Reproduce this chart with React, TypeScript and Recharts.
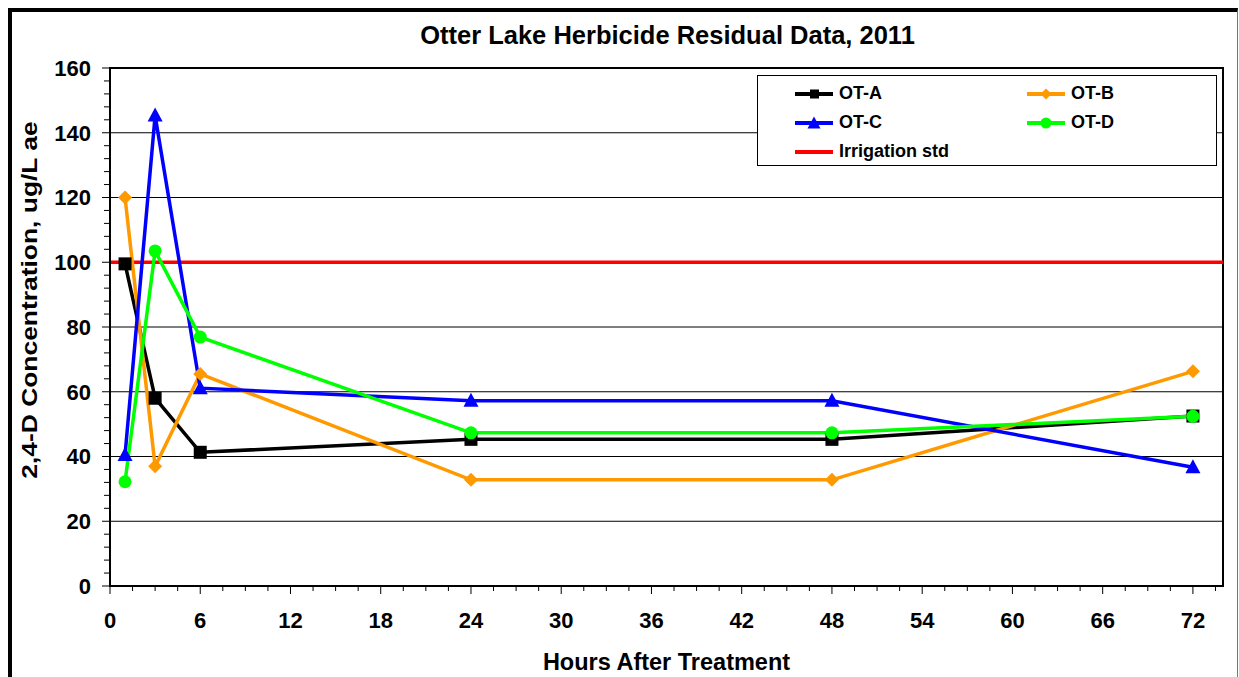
import React from 'react';
import {
  LineChart,
  Line,
  XAxis,
  YAxis,
  Legend,
  ReferenceLine,
  ReferenceArea,
} from 'recharts';

const hours = [1, 3, 6, 24, 48, 72];
const otA = [99.5, 58, 41.3, 45.3, 45.3, 52.5];
const otB = [120, 37, 65.5, 32.8, 32.8, 66.3];
const otC = [40.5, 145.3, 61.1, 57.2, 57.2, 36.7];
const otD = [32.2, 103.5, 76.9, 47.3, 47.3, 52.4];
const irrigationStd = 100;

// minor ticks every 1.5 h / 4 units, labels only on the majors
const xTicks = [
  0, 1.5, 3, 4.5, 6, 7.5, 9, 10.5, 12, 13.5, 15, 16.5, 18, 19.5, 21, 22.5, 24, 25.5, 27, 28.5,
  30, 31.5, 33, 34.5, 36, 37.5, 39, 40.5, 42, 43.5, 45, 46.5, 48, 49.5, 51, 52.5, 54, 55.5, 57,
  58.5, 60, 61.5, 63, 64.5, 66, 67.5, 69, 70.5, 72, 73.5,
];
const yTicks = [
  0, 4, 8, 12, 16, 20, 24, 28, 32, 36, 40, 44, 48, 52, 56, 60, 64, 68, 72, 76, 80, 84, 88, 92,
  96, 100, 104, 108, 112, 116, 120, 124, 128, 132, 136, 140, 144, 148, 152, 156, 160,
];
const yGridLines = [20, 40, 60, 80, 100, 120, 140];

const rows = hours.map((h, i) => ({ h, a: otA[i], b: otB[i], c: otC[i], d: otD[i] }));

const FONT = '"Liberation Sans", Arial, sans-serif';

const SquareDot = (props: any) => {
  const { cx, cy } = props;
  return <rect x={cx - 6.5} y={cy - 6.5} width={13} height={13} fill="#000" />;
};
const DiamondDot = (props: any) => {
  const { cx, cy } = props;
  return <path d={`M${cx},${cy - 7} L${cx + 7},${cy} L${cx},${cy + 7} L${cx - 7},${cy} Z`} fill="#ff9900" />;
};
const TriangleDot = (props: any) => {
  const { cx, cy } = props;
  return <path d={`M${cx},${cy - 8} L${cx + 7.5},${cy + 6} L${cx - 7.5},${cy + 6} Z`} fill="#0000ff" />;
};
const CircleDot = (props: any) => {
  const { cx, cy } = props;
  return <circle cx={cx} cy={cy} r={6.5} fill="#00ff00" />;
};

const XTick = (props: any) => {
  const { x, y, payload } = props;
  const v = payload.value;
  const major = v % 6 === 0;
  return (
    <g>
      <line x1={x} y1={y} x2={x} y2={y + (major ? 8 : 5)} stroke="#000" strokeWidth={1} />
      {major && (
        <text x={x} y={y + 42} textAnchor="middle" fontFamily={FONT} fontWeight="bold" fontSize={22} fill="#000">
          {v}
        </text>
      )}
    </g>
  );
};

const YTick = (props: any) => {
  const { x, y, payload } = props;
  const v = payload.value;
  const major = v % 20 === 0;
  return (
    <g>
      <line x1={x - (major ? 8 : 6)} y1={y} x2={x} y2={y} stroke="#000" strokeWidth={1} />
      {major && (
        <text x={x - 19} y={y} dy="0.36em" textAnchor="end" fontFamily={FONT} fontWeight="bold" fontSize={22} fill="#000">
          {v}
        </text>
      )}
    </g>
  );
};

const legendItems = [
  { name: 'OT-A', color: '#000', marker: 'square' },
  { name: 'OT-B', color: '#ff9900', marker: 'diamond' },
  { name: 'OT-C', color: '#0000ff', marker: 'triangle' },
  { name: 'OT-D', color: '#00ff00', marker: 'circle' },
  { name: 'Irrigation std', color: '#ff0000', marker: 'none' },
];

const LegendMarker = ({ color, marker }: { color: string; marker: string }) => (
  <svg width={38} height={14} style={{ marginRight: 6 }}>
    <line x1={0} y1={7} x2={38} y2={7} stroke={color} strokeWidth={4} />
    {marker === 'square' && <rect x={15} y={2.5} width={9} height={9} fill={color} />}
    {marker === 'diamond' && <path d="M19,1.5 L24.5,7 L19,12.5 L13.5,7 Z" fill={color} />}
    {marker === 'triangle' && <path d="M19,0.5 L25.5,12.5 L12.5,12.5 Z" fill={color} />}
    {marker === 'circle' && <circle cx={19} cy={7} r={5.5} fill={color} />}
  </svg>
);

const renderLegend = () => (
  <div
    style={{
      width: 460,
      height: 91,
      border: '1px solid #000',
      background: '#fff',
      boxSizing: 'border-box',
      display: 'grid',
      gridTemplateColumns: '232px 180px',
      gridAutoRows: '29px',
      paddingLeft: 37,
      paddingTop: 3,
      fontFamily: FONT,
      fontWeight: 'bold',
      fontSize: 18,
    }}
  >
    {legendItems.map((it) => (
      <div key={it.name} style={{ display: 'flex', alignItems: 'center' }}>
        <LegendMarker color={it.color} marker={it.marker} />
        <span>{it.name}</span>
      </div>
    ))}
  </div>
);

export default function App() {
  return (
    <div style={{ position: 'absolute', left: 0, top: 0, width: 1239, height: 677, background: '#fff', overflow: 'hidden' }}>
      <div
        style={{
          position: 'absolute',
          left: 8,
          top: 8,
          width: 1230,
          height: 700,
          borderTop: '4px solid #000',
          borderLeft: '4px solid #000',
          borderRight: '1px solid #777',
          boxSizing: 'border-box',
        }}
      />
      <div
        style={{
          position: 'absolute',
          left: 48,
          top: 20,
          width: 1239,
          textAlign: 'center',
          fontFamily: FONT,
          fontWeight: 'bold',
          fontSize: 25.5,
          lineHeight: '30px',
        }}
      >
        Otter Lake Herbicide Residual Data, 2011
      </div>
      <div
        style={{
          position: 'absolute',
          left: 30,
          top: 300,
          transform: 'translate(-50%, -50%) rotate(-90deg) scaleX(1.2)',
          whiteSpace: 'nowrap',
          fontFamily: FONT,
          fontWeight: 'bold',
          fontSize: 22,
        }}
      >
        2,4-D Concentration, ug/L ae
      </div>
      <div style={{ position: 'absolute', left: 0, top: 0 }}>
        <LineChart width={1239} height={677} data={rows} margin={{ top: 68, right: 16, left: 0, bottom: 0 }}>
          <XAxis
            type="number"
            dataKey="h"
            domain={[0, 74]}
            ticks={xTicks}
            interval={0}
            height={91}
            tick={<XTick />}
            tickSize={0}
            tickMargin={0}
            tickLine={false}
            axisLine={{ stroke: '#000', strokeWidth: 2 }}
            allowDataOverflow
            label={{
              value: 'Hours After Treatment',
              position: 'insideBottom',
              offset: 7,
              style: { fontSize: 23.5, fontWeight: 'bold', fill: '#000', fontFamily: FONT },
            }}
          />
          <YAxis
            type="number"
            domain={[0, 160]}
            ticks={yTicks}
            interval={0}
            width={110}
            tick={<YTick />}
            tickSize={0}
            tickMargin={0}
            tickLine={false}
            axisLine={{ stroke: '#000', strokeWidth: 2 }}
          />
          {yGridLines.map((g) => (
            <ReferenceLine key={g} y={g} stroke="#000" strokeWidth={1} />
          ))}
          <ReferenceArea x1={0} x2={74} y1={0} y2={160} fill="none" stroke="#000" strokeWidth={2} ifOverflow="visible" />
          <ReferenceLine y={irrigationStd} stroke="#ff0000" strokeWidth={3.5} />
          <Line dataKey="a" stroke="#000" strokeWidth={3.5} dot={<SquareDot />} activeDot={false} isAnimationActive={false} />
          <Line dataKey="b" stroke="#ff9900" strokeWidth={3.5} dot={<DiamondDot />} activeDot={false} isAnimationActive={false} />
          <Line dataKey="c" stroke="#0000ff" strokeWidth={3.5} dot={<TriangleDot />} activeDot={false} isAnimationActive={false} />
          <Line dataKey="d" stroke="#00ff00" strokeWidth={3.5} dot={<CircleDot />} activeDot={false} isAnimationActive={false} />
          <Legend
            layout="horizontal"
            verticalAlign="middle"
            align="center"
            content={renderLegend}
            wrapperStyle={{ left: 757, top: 75, width: 460, height: 91 }}
          />
        </LineChart>
      </div>
    </div>
  );
}
